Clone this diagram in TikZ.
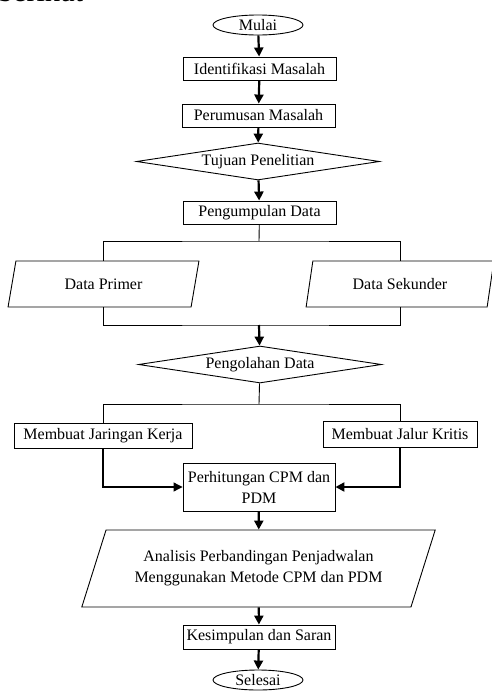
\documentclass[tikz,border=0pt]{standalone}
\usepackage{fontspec}
\setmainfont{Liberation Serif}
\usetikzlibrary{arrows.meta,positioning,shapes.geometric}

\begin{document}
\begin{tikzpicture}[x=1pt,y=1pt,font=\fontsize{16}{18.5}\selectfont,
 proses/.style={draw,line width=0.9pt,minimum width=153pt,minimum height=23pt,inner sep=2pt,align=center},
 terminal/.style={draw,ellipse,line width=0.9pt,minimum width=90pt,minimum height=20pt,inner sep=0pt},
 keputusan/.style={draw,diamond,aspect=6.5,line width=0.9pt,minimum width=243pt,minimum height=37pt,inner sep=0pt},
 data/.style={draw,trapezium,trapezium stretches=true,line width=0.9pt,inner sep=0pt,align=center},
 garis/.style={line width=0.9pt},
 panah/.style={-{Triangle[length=9pt,width=9pt]},line width=2.2pt},
 panahtipis/.style={-{Triangle[length=9pt,width=9pt]},line width=1.1pt}]
\useasboundingbox (0,0) rectangle (492,-691);
% potongan teks halaman
\node[anchor=base west,inner sep=0pt,font=\fontsize{30}{30}\selectfont] (judul) at (-2,-1.5) {berikut};
% alur utama
\node[terminal] (mulai) at (258,-25) {Mulai};
\node[proses] (identifikasi) at (259.5,-68.5) {Identifikasi Masalah};
\node[proses] (rumusan) at (258.5,-115.5) {Perumusan Masalah};
\node[keputusan] (tujuan) at (258,-161.5) {Tujuan Penelitian};
\node[proses] (kumpul) at (259.5,-212.5) {Pengumpulan Data};
\node[data,trapezium left angle=72,trapezium right angle=108,minimum width=191pt,minimum height=46pt] (primer) at (103.5,-284) {Data Primer};
\node[data,trapezium left angle=72,trapezium right angle=108,minimum width=188pt,minimum height=46pt] (sekunder) at (400,-284) {Data Sekunder};
\node[keputusan] (olah) at (260,-364.5) {Pengolahan Data};
\node[proses,minimum width=178pt,minimum height=25pt] (jaringan) at (103,-435.5) {Membuat Jaringan Kerja};
\node[proses,minimum width=154pt,minimum height=26pt] (jalur) at (400,-434) {Membuat Jalur Kritis};
\node[proses,minimum width=152pt,minimum height=48pt,font=\fontsize{16}{21}\selectfont] (hitung) at (259,-487) {Perhitungan CPM dan\\PDM};
\node[data,trapezium left angle=61,trapezium right angle=119,minimum width=355pt,minimum height=77pt,font=\fontsize{16}{21}\selectfont] (analisis) at (258.5,-568.5) {Analisis Perbandingan Penjadwalan\\Menggunakan Metode CPM dan PDM};
\node[proses,minimum width=152pt,minimum height=24pt] (simpul) at (259,-637) {Kesimpulan dan Saran};
\node[terminal] (selesai) at (258,-680) {Selesai};
% titik cabang
\coordinate (pisah1) at (259,-241);
\coordinate (gabung1) at (259,-325);
\coordinate (pisah2) at (259,-404);

\draw[panah] (mulai) -- (identifikasi);
\draw[panah] (identifikasi) -- (rumusan);
\draw[panah] (rumusan) -- (tujuan);
\draw[panah] (tujuan) -- (kumpul);
\draw[garis] (kumpul) -- (pisah1);
\draw[garis] (primer.north) |- (pisah1) -| (sekunder.north);
\draw[garis] (primer.south) |- (gabung1) -| (sekunder.south);
\draw[panah] (gabung1) -- (olah);
\draw[garis] (olah) -- (pisah2);
\draw[garis] (jaringan.north) |- (pisah2) -| (jalur.north);
\draw[panahtipis] (jaringan.south) |- (hitung.west);
\draw[panah] (jalur.south) |- (hitung.east);
\draw[panah] (hitung) -- (analisis);
\draw[panah] (analisis) -- (simpul);
\draw[panah] (simpul) -- (selesai);
\end{tikzpicture}
\end{document}
